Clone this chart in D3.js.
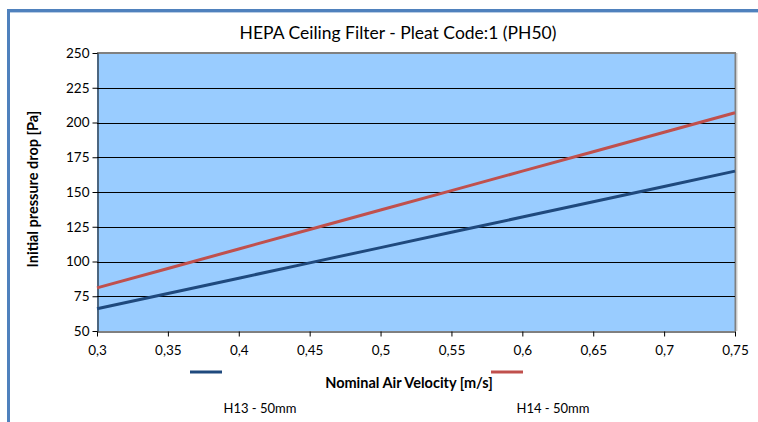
<!DOCTYPE html>
<html><head><meta charset="utf-8">
<script src="https://cdn.jsdelivr.net/npm/d3@7"></script>
<style>body{margin:0;background:#fff;}svg{display:block;font-family:Lato,"Open Sans",sans-serif;}</style>
</head><body><svg id="c" width="758" height="422"></svg>
<script>
const velocities = [0.3,0.35,0.4,0.45,0.5,0.55,0.6,0.65,0.7,0.75];
const h13 = [66,77,88,99,110,121,132,143,154,165];
const h14 = [81,95,109,123,137,151,165,179,193,207];
const seriesNames = ["H13 - 50mm","H14 - 50mm"];
const seriesColors = ["#1f497d","#c0504d"];
const xTicks = [0.3,0.35,0.4,0.45,0.5,0.55,0.6,0.65,0.7,0.75];
const yTicks = [50,75,100,125,150,175,200,225,250];

const svg = d3.select("#c");
// frame
svg.append("rect").attr("x",8).attr("y",9).attr("width",750).attr("height",3).attr("fill","#4f81bd");
svg.append("rect").attr("x",8).attr("y",12).attr("width",750).attr("height",1).attr("fill","#b8cce4");
svg.append("rect").attr("x",7).attr("y",9).attr("width",3).attr("height",413).attr("fill","#4f81bd");

const L=97,R=735,T=53,B=331;
const x=d3.scaleLinear().domain([0.3,0.75]).range([L,R]);
const y=d3.scaleLinear().domain([50,250]).range([B,T]);

svg.append("rect").attr("x",L).attr("y",T).attr("width",R-L).attr("height",B-T).attr("fill","#99ccff");
svg.append("line").attr("x1",L).attr("x2",R+1).attr("y1",T).attr("y2",T).attr("stroke","#808080").attr("stroke-width",2);
svg.append("line").attr("x1",R+0.5).attr("x2",R+0.5).attr("y1",T).attr("y2",B).attr("stroke","#808080").attr("stroke-width",2);
svg.append("line").attr("x1",R+2).attr("x2",R+2).attr("y1",T).attr("y2",B).attr("stroke","#d0d0d0").attr("stroke-width",1);

svg.append("g").selectAll("line").data(yTicks.filter(d=>d>50&&d<250)).join("line")
  .attr("x1",L).attr("x2",R).attr("y1",d=>Math.round(y(d))+0.5).attr("y2",d=>Math.round(y(d))+0.5)
  .attr("stroke","#000").attr("stroke-width",1);

const yAxis=svg.append("g").attr("transform",`translate(${L+0.5},0)`)
  .call(d3.axisLeft(y).tickValues(yTicks).tickSize(5).tickSizeOuter(0).tickFormat(d3.format("d")));
const xAxis=svg.append("g").attr("transform",`translate(0,${B+0.5})`)
  .call(d3.axisBottom(x).tickValues(xTicks).tickSize(5).tickSizeOuter(0).tickFormat(d=>String(d).replace(".",",")));
[yAxis,xAxis].forEach(a=>{a.select(".domain").attr("stroke","#000");a.selectAll(".tick line").attr("stroke","#000");
  a.selectAll("text").attr("font-size",13.5).attr("fill","#000").attr("font-family","Lato,'Open Sans',sans-serif");});
yAxis.selectAll("text").attr("x",-8);
xAxis.selectAll("text").attr("y",14);

const line=d3.line().x((d,i)=>x(velocities[i])).y(d=>y(d));
[h13,h14].forEach((s,k)=>{
  svg.append("path").datum(s).attr("d",line).attr("fill","none").attr("stroke",seriesColors[k]).attr("stroke-width",3);
});

svg.append("text").attr("x",398).attr("y",39).attr("text-anchor","middle").attr("font-size",17.5).attr("fill","#000")
  .text("HEPA Ceiling Filter - Pleat Code:1 (PH50)");
svg.append("text").attr("x",409).attr("y",388).attr("text-anchor","middle").attr("font-size",14.5).attr("font-weight","bold")
  .text("Nominal Air Velocity [m/s]");
svg.append("text").attr("transform","translate(38,189) rotate(-90)").attr("text-anchor","middle").attr("font-size",14.5).attr("font-weight","bold")
  .text("Initial pressure drop [Pa]");

const legX=[190,491], labX=[260,553];
seriesNames.forEach((n,k)=>{
  svg.append("line").attr("x1",legX[k]).attr("x2",legX[k]+32).attr("y1",372).attr("y2",372).attr("stroke",seriesColors[k]).attr("stroke-width",3);
  svg.append("text").attr("x",labX[k]).attr("y",413).attr("text-anchor","middle").attr("font-size",13).text(n);
});
</script></body></html>
